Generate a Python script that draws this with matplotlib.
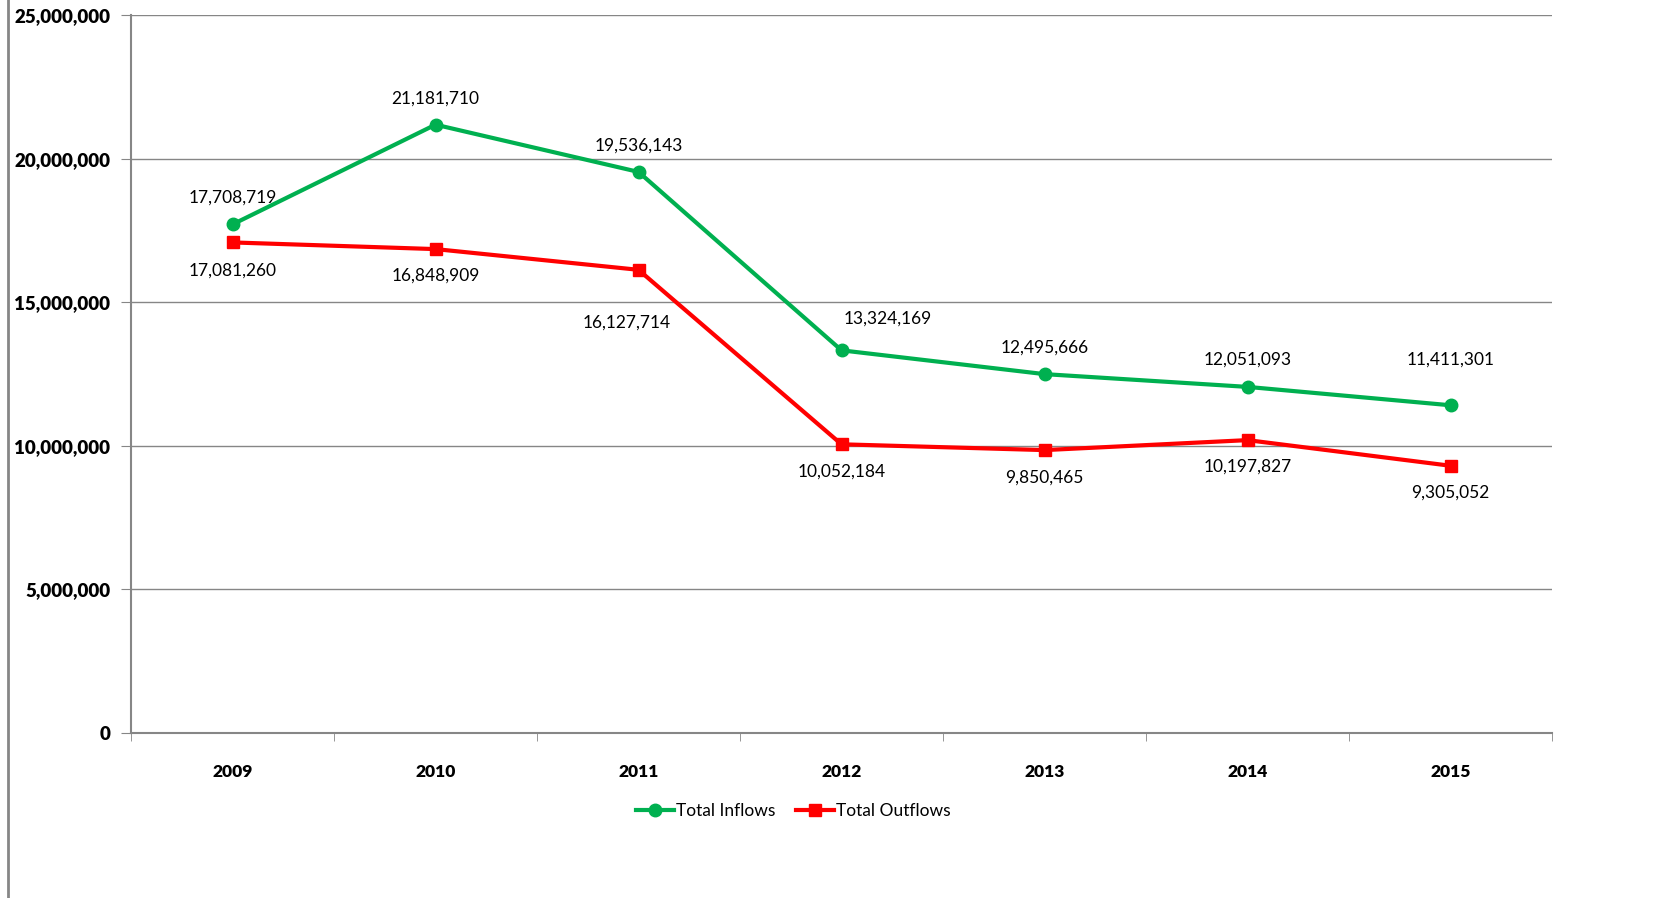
import matplotlib
matplotlib.use('agg')
import matplotlib.pyplot as plt
from matplotlib.lines import Line2D

years = ['2009', '2010', '2011', '2012', '2013', '2014', '2015']
inflows = [17708719, 21181710, 19536143, 13324169, 12495666, 12051093, 11411301]
outflows = [17081260, 16848909, 16127714, 10052184, 9850465, 10197827, 9305052]

# label offsets in pixels (x, y)
in_off = [(0, 27), (0, 26), (0, 26), (46, 32), (0, 26), (0, 27), (0, 46)]
out_off = [(0, -28), (0, -27), (-12, -53), (0, -27), (0, -28), (0, -27), (0, -27)]

plt.rcParams['font.family'] = ['Lato', 'DejaVu Sans']
green = '#00B050'
red = '#FF0000'
grey = '#868686'

fig = plt.figure(figsize=(16.78, 8.98), dpi=100)
ax = fig.add_axes([131/1678, 1-733/898, (1552-131)/1678, (733-15)/898])

x = list(range(len(years)))
ax.plot(x, inflows, color=green, lw=3, marker='o', ms=9, zorder=3)
ax.plot(x, outflows, color=red, lw=3, marker='s', ms=9, zorder=3)

for i in x:
    ax.annotate('{:,}'.format(inflows[i]), (i, inflows[i]), xytext=in_off[i],
                textcoords='offset pixels', ha='center', va='center', fontsize=12.5)
    ax.annotate('{:,}'.format(outflows[i]), (i, outflows[i]), xytext=out_off[i],
                textcoords='offset pixels', ha='center', va='center', fontsize=12.5)

ax.set_xlim(-0.5, len(years) - 0.5)
ax.set_ylim(0, 25000000)
ax.set_yticks(range(0, 25000001, 5000000))
ax.set_yticklabels(['{:,}'.format(v) for v in range(0, 25000001, 5000000)],
                   fontweight='heavy', fontsize=13.5)
ax.set_xticks(x)
ax.set_xticklabels(years, fontweight='heavy', fontsize=12.5)
ax.set_xticks([i - 0.5 for i in range(len(years) + 1)], minor=True)
ax.tick_params(axis='x', which='major', length=0, pad=22)
ax.tick_params(axis='x', which='minor', length=6, color=grey, direction='out')
ax.tick_params(axis='y', length=7, color=grey, pad=8)
ax.yaxis.grid(True, color=grey, lw=1)
ax.set_axisbelow(True)
for s in ['top', 'right']:
    ax.spines[s].set_visible(False)
for s in ['left', 'bottom']:
    ax.spines[s].set_color(grey)
    ax.spines[s].set_linewidth(1.5)

handles = [Line2D([], [], color=green, lw=3, marker='o', ms=9),
           Line2D([], [], color=red, lw=3, marker='s', ms=9)]
fig.legend(handles, ['Total Inflows', 'Total Outflows'], loc='center',
           bbox_to_anchor=(793/1678, 1-811/898), ncol=2, frameon=False,
           fontsize=12.5, handlelength=2.2, handletextpad=0.1, columnspacing=1.2)

# chart area border on the left
fig.add_artist(Line2D([8/1678, 8/1678], [0, 1], color=grey, lw=2))

fig.savefig('out.png', dpi=100)
